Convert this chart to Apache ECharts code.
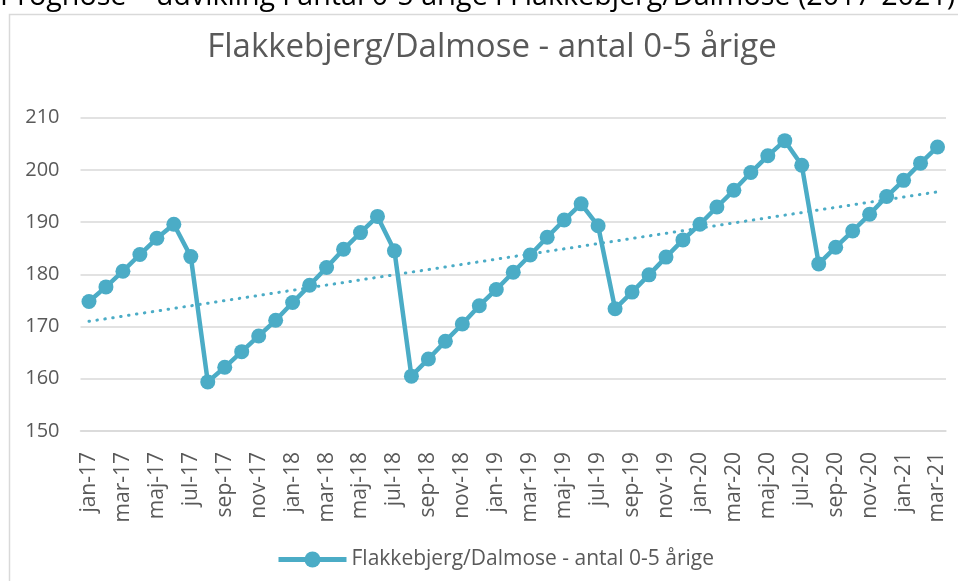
<!DOCTYPE html>
<html><head><meta charset="utf-8">
<script src="https://cdn.jsdelivr.net/npm/echarts@6/dist/echarts.min.js"></script>
<style>html,body{margin:0;padding:0;background:#fff;}#c{width:958px;height:581px;}</style>
</head><body><div id="c"></div>
<script>
var outerTitle = 'Prognose – udvikling i antal 0-5 årige i Flakkebjerg/Dalmose (2017-2021)';
var chartTitle = 'Flakkebjerg/Dalmose - antal 0-5 årige';
var seriesName = 'Flakkebjerg/Dalmose - antal 0-5 årige';
var monthNames = ['jan','feb','mar','apr','maj','jun','jul','aug','sep','okt','nov','dec'];
var years = ['17','18','19','20','21'];
var categories = [];
years.forEach(function(y, yi){ monthNames.forEach(function(m, mi){ if (yi < 4 || mi < 3) categories.push(m + '-' + y); }); });
var values2017 = [174.8, 177.6, 180.6, 183.8, 186.9, 189.6, 183.4, 159.4, 162.2, 165.2, 168.2, 171.2];
var values2018 = [174.6, 177.9, 181.3, 184.8, 188.0, 191.1, 184.5, 160.5, 163.8, 167.2, 170.5, 174.0];
var values2019 = [177.1, 180.4, 183.7, 187.1, 190.4, 193.5, 189.3, 173.4, 176.6, 179.9, 183.3, 186.6];
var values2020 = [189.6, 192.9, 196.1, 199.5, 202.7, 205.6, 200.9, 182.0, 185.2, 188.3, 191.5, 194.9];
var values2021 = [198.0, 201.3, 204.4];
var values = [].concat(values2017, values2018, values2019, values2020, values2021);
var trendEnds = [171.0, 195.8];
var yTicks = [150, 160, 170, 180, 190, 200, 210];

var color = '#4bacc6';
var txt = '#595959';
var font = 'Open Sans';
var chart = echarts.init(document.getElementById('c'));
chart.setOption({
  animation: false,
  backgroundColor: '#fff',
  textStyle: {fontFamily: font},
  graphic: [
    {type: 'rect', shape: {x: 9.5, y: 14.5, width: 1000, height: 700}, style: {fill: 'none', stroke: '#d9d9d9', lineWidth: 1.5}, z: -10},
    {type: 'text', left: 0, top: -18, style: {text: outerTitle, fill: '#000', font: '28.7px "Open Sans"'}}
  ],
  title: {text: chartTitle, left: 487, textAlign: 'center', top: 26,
    textStyle: {color: txt, fontSize: 33, fontWeight: 'normal', fontFamily: font}},
  legend: {bottom: 6, left: 271, itemWidth: 68, itemHeight: 20, itemGap: 4,
    data: [seriesName],
    lineStyle: {width: 5},
    textStyle: {color: txt, fontSize: 21, fontFamily: font}},
  grid: {left: 80.5, right: 12, top: 117.7, bottom: 150, containLabel: false},
  xAxis: {type: 'category', data: categories, boundaryGap: true,
    axisLine: {show: true, lineStyle: {color: '#d9d9d9', width: 1.5}},
    axisTick: {show: false},
    axisLabel: {interval: 1, rotate: 90, color: txt, fontSize: 21, margin: 21, fontFamily: font}},
  yAxis: {type: 'value', min: yTicks[0], max: yTicks[yTicks.length - 1], interval: 10,
    axisLine: {show: false}, axisTick: {show: false},
    axisLabel: {color: txt, fontSize: 20, margin: 21, fontFamily: font},
    splitLine: {lineStyle: {color: '#d9d9d9', width: 1.5}}},
  series: [{
    name: seriesName, type: 'line', data: values,
    symbol: 'circle', symbolSize: 15, showAllSymbol: true,
    lineStyle: {color: color, width: 4.5},
    itemStyle: {color: color},
    markLine: {silent: true, symbol: 'none', label: {show: false},
      lineStyle: {color: color, width: 3, type: [0.5, 7.5], cap: 'round'},
      data: [[{coord: [categories[0], trendEnds[0]]}, {coord: [categories[categories.length - 1], trendEnds[1]]}]]}
  }]
});
</script></body></html>
